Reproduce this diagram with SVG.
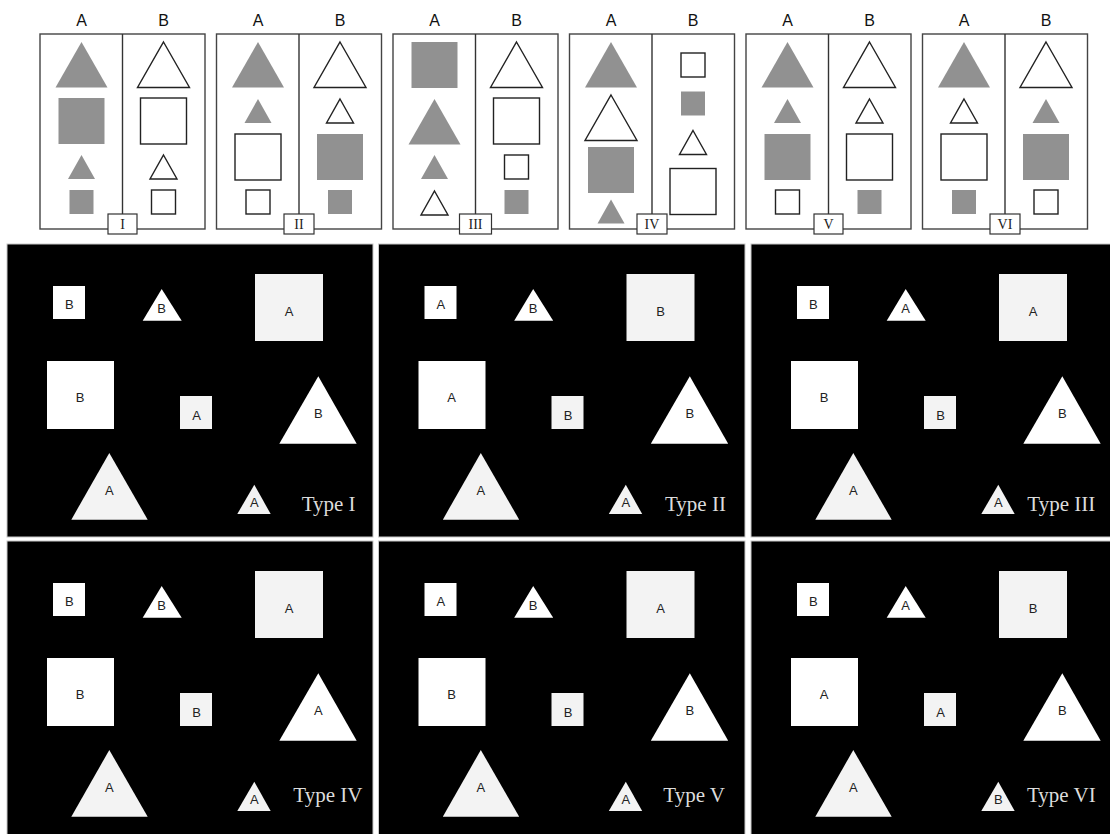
<svg xmlns="http://www.w3.org/2000/svg" xmlns:xlink="http://www.w3.org/1999/xlink" width="1110" height="834" viewBox="0 0 1110 834">
<style>
.frame{fill:#fff;stroke:#444;stroke-width:1.4}
.div{stroke:#333;stroke-width:1.4}
.g{fill:#919191;stroke:none}
.o{fill:#fff;stroke:#222;stroke-width:1.4}
.hdr{font-family:"Liberation Sans",Arial,sans-serif;font-size:16px;fill:#111;text-anchor:middle}
.lbox{fill:#fff;stroke:#333;stroke-width:1.2}
.ltxt{font-family:"Liberation Serif","Times New Roman",serif;font-size:14px;fill:#222;text-anchor:middle}
.panel{fill:#000;stroke:#c8c8c8;stroke-width:1}
.w{fill:#fff}
.lw{fill:#f3f3f3}
.sl{font-family:"Liberation Sans",Arial,sans-serif;font-size:13px;fill:#222;text-anchor:middle}
.type{font-family:"Liberation Serif","Times New Roman",serif;font-size:21px;fill:#dcdcdc}
</style>
<defs>
<polygon id="bT" points="0,0 26,45.5 -26,45.5"/>
<rect id="bS" x="-23" y="0" width="46" height="46"/>
<polygon id="sT" points="0,0 13.5,24 -13.5,24"/>
<rect id="sS" x="-12" y="0" width="24" height="24"/>
</defs>
<rect x="0" y="0" width="1110" height="834" fill="#fff"/>

<!-- Top panels -->
<g id="panel-I">
<text class="hdr" x="81.5" y="26">A</text><text class="hdr" x="163.5" y="26">B</text>
<rect class="frame" x="40" y="34" width="165" height="195"/>
<line class="div" x1="122.5" y1="34" x2="122.5" y2="214"/>
<use href="#bT" class="g" x="81.5" y="42"/><use href="#bS" class="g" x="81.5" y="98"/><use href="#sT" class="g" x="81.5" y="155"/><use href="#sS" class="g" x="81.5" y="190"/>
<use href="#bT" class="o" x="163.5" y="42"/><use href="#bS" class="o" x="163.5" y="98"/><use href="#sT" class="o" x="163.5" y="155"/><use href="#sS" class="o" x="163.5" y="190"/>
<rect class="lbox" x="108" y="214" width="29" height="20"/><text class="ltxt" x="122.5" y="229">I</text>
</g>
<g id="panel-II">
<text class="hdr" x="258" y="26">A</text><text class="hdr" x="340" y="26">B</text>
<rect class="frame" x="216.5" y="34" width="165" height="195"/>
<line class="div" x1="299" y1="34" x2="299" y2="214"/>
<use href="#bT" class="g" x="258" y="42"/><use href="#sT" class="g" x="258" y="99"/><use href="#bS" class="o" x="258" y="134"/><use href="#sS" class="o" x="258" y="190"/>
<use href="#bT" class="o" x="340" y="42"/><use href="#sT" class="o" x="340" y="99"/><use href="#bS" class="g" x="340" y="134"/><use href="#sS" class="g" x="340" y="190"/>
<rect class="lbox" x="284" y="214" width="30" height="20"/><text class="ltxt" x="299" y="229">II</text>
</g>
<g id="panel-III">
<text class="hdr" x="434.5" y="26">A</text><text class="hdr" x="516.5" y="26">B</text>
<rect class="frame" x="393" y="34" width="165" height="195"/>
<line class="div" x1="475.5" y1="34" x2="475.5" y2="214"/>
<use href="#bS" class="g" x="434.5" y="42"/><use href="#bT" class="g" x="434.5" y="99"/><use href="#sT" class="g" x="434.5" y="155"/><use href="#sT" class="o" x="434.5" y="191"/>
<use href="#bT" class="o" x="516.5" y="42"/><use href="#bS" class="o" x="516.5" y="98"/><use href="#sS" class="o" x="516.5" y="155"/><use href="#sS" class="g" x="516.5" y="190"/>
<rect class="lbox" x="459.5" y="214" width="32" height="20"/><text class="ltxt" x="475.5" y="229">III</text>
</g>
<g id="panel-IV">
<text class="hdr" x="611" y="26">A</text><text class="hdr" x="693" y="26">B</text>
<rect class="frame" x="569.5" y="34" width="165" height="195"/>
<line class="div" x1="652" y1="34" x2="652" y2="214"/>
<use href="#bT" class="g" x="611" y="42"/><use href="#bT" class="o" x="611" y="95"/><use href="#bS" class="g" x="611" y="147"/><use href="#sT" class="g" x="611" y="199.5"/>
<use href="#sS" class="o" x="693" y="53"/><use href="#sS" class="g" x="693" y="91.5"/><use href="#sT" class="o" x="693" y="130.5"/><use href="#bS" class="o" x="693" y="168.5"/>
<rect class="lbox" x="637" y="214" width="30" height="20"/><text class="ltxt" x="652" y="229">IV</text>
</g>
<g id="panel-V">
<text class="hdr" x="787.5" y="26">A</text><text class="hdr" x="869.5" y="26">B</text>
<rect class="frame" x="746" y="34" width="165" height="195"/>
<line class="div" x1="828.5" y1="34" x2="828.5" y2="214"/>
<use href="#bT" class="g" x="787.5" y="42"/><use href="#sT" class="g" x="787.5" y="99"/><use href="#bS" class="g" x="787.5" y="134"/><use href="#sS" class="o" x="787.5" y="190"/>
<use href="#bT" class="o" x="869.5" y="42"/><use href="#sT" class="o" x="869.5" y="99"/><use href="#bS" class="o" x="869.5" y="134"/><use href="#sS" class="g" x="869.5" y="190"/>
<rect class="lbox" x="814" y="214" width="29" height="20"/><text class="ltxt" x="828.5" y="229">V</text>
</g>
<g id="panel-VI">
<text class="hdr" x="964" y="26">A</text><text class="hdr" x="1046" y="26">B</text>
<rect class="frame" x="922.5" y="34" width="165" height="195"/>
<line class="div" x1="1005" y1="34" x2="1005" y2="214"/>
<use href="#bT" class="g" x="964" y="42"/><use href="#sT" class="o" x="964" y="99"/><use href="#bS" class="o" x="964" y="134"/><use href="#sS" class="g" x="964" y="190"/>
<use href="#bT" class="o" x="1046" y="42"/><use href="#sT" class="g" x="1046" y="99"/><use href="#bS" class="g" x="1046" y="134"/><use href="#sS" class="o" x="1046" y="190"/>
<rect class="lbox" x="990" y="214" width="30" height="20"/><text class="ltxt" x="1005" y="229">VI</text>
</g>

<!-- Bottom black panels: shape template in Type I coordinates -->
<defs>
<g id="shapes">
<rect class="w" x="53" y="286" width="32" height="33"/>
<polygon class="w" points="161.7,289 181.7,320.7 142.7,320.7"/>
<rect class="lw" x="255" y="274" width="68" height="67"/>
<rect class="w" x="47" y="361" width="67" height="68"/>
<rect class="lw" x="180" y="396" width="32" height="33"/>
<polygon class="w" points="318.3,376.3 356.7,443.7 279.3,443.7"/>
<polygon class="lw" points="109.3,453 147.7,519.7 71.3,519.7"/>
<polygon class="lw" points="254.3,484.7 270.7,514 237.3,514"/>
</g>
</defs>

<g id="type-I">
<rect class="panel" x="7" y="244" width="366" height="293"/>
<use href="#shapes"/>
<text class="sl" x="69.3" y="308.5">B</text><text class="sl" x="161.7" y="312.8">B</text><text class="sl" x="289" y="315.5">A</text><text class="sl" x="80" y="402">B</text><text class="sl" x="196.5" y="419.5">A</text><text class="sl" x="318.3" y="417.8">B</text><text class="sl" x="109.3" y="494.5">A</text><text class="sl" x="254.3" y="507">A</text>
<text class="type" x="301.7" y="511">Type I</text>
</g>
<g id="type-II" transform="translate(371.5,0)">
<rect class="panel" x="7" y="244" width="366.5" height="293"/>
<use href="#shapes"/>
<text class="sl" x="69.3" y="308.5">A</text><text class="sl" x="161.7" y="312.8">B</text><text class="sl" x="289" y="315.5">B</text><text class="sl" x="80" y="402">A</text><text class="sl" x="196.5" y="419.5">B</text><text class="sl" x="318.3" y="417.8">B</text><text class="sl" x="109.3" y="494.5">A</text><text class="sl" x="254.3" y="507">A</text>
<text class="type" x="293.5" y="511">Type II</text>
</g>
<g id="type-III" transform="translate(744,0)">
<rect class="panel" x="7" y="244" width="370" height="293"/>
<use href="#shapes"/>
<text class="sl" x="69.3" y="308.5">B</text><text class="sl" x="161.7" y="312.8">A</text><text class="sl" x="289" y="315.5">A</text><text class="sl" x="80" y="402">B</text><text class="sl" x="196.5" y="419.5">B</text><text class="sl" x="318.3" y="417.8">B</text><text class="sl" x="109.3" y="494.5">A</text><text class="sl" x="254.3" y="507">A</text>
<text class="type" x="283.3" y="511">Type III</text>
</g>
<g id="type-IV" transform="translate(0,297)">
<rect class="panel" x="7" y="244" width="366" height="300"/>
<use href="#shapes"/>
<text class="sl" x="69.3" y="308.5">B</text><text class="sl" x="161.7" y="312.8">B</text><text class="sl" x="289" y="315.5">A</text><text class="sl" x="80" y="402">B</text><text class="sl" x="196.5" y="419.5">B</text><text class="sl" x="318.3" y="417.8">A</text><text class="sl" x="109.3" y="494.5">A</text><text class="sl" x="254.3" y="507">A</text>
<text class="type" x="293.3" y="505">Type IV</text>
</g>
<g id="type-V" transform="translate(371.5,297)">
<rect class="panel" x="7" y="244" width="366.5" height="300"/>
<use href="#shapes"/>
<text class="sl" x="69.3" y="308.5">A</text><text class="sl" x="161.7" y="312.8">B</text><text class="sl" x="289" y="315.5">A</text><text class="sl" x="80" y="402">B</text><text class="sl" x="196.5" y="419.5">B</text><text class="sl" x="318.3" y="417.8">B</text><text class="sl" x="109.3" y="494.5">A</text><text class="sl" x="254.3" y="507">A</text>
<text class="type" x="291.8" y="505">Type V</text>
</g>
<g id="type-VI" transform="translate(744,297)">
<rect class="panel" x="7" y="244" width="370" height="300"/>
<use href="#shapes"/>
<text class="sl" x="69.3" y="308.5">B</text><text class="sl" x="161.7" y="312.8">A</text><text class="sl" x="289" y="315.5">B</text><text class="sl" x="80" y="402">A</text><text class="sl" x="196.5" y="419.5">A</text><text class="sl" x="318.3" y="417.8">B</text><text class="sl" x="109.3" y="494.5">A</text><text class="sl" x="254.3" y="507">B</text>
<text class="type" x="283" y="505">Type VI</text>
</g>
<g id="connectors"/>
</svg>
